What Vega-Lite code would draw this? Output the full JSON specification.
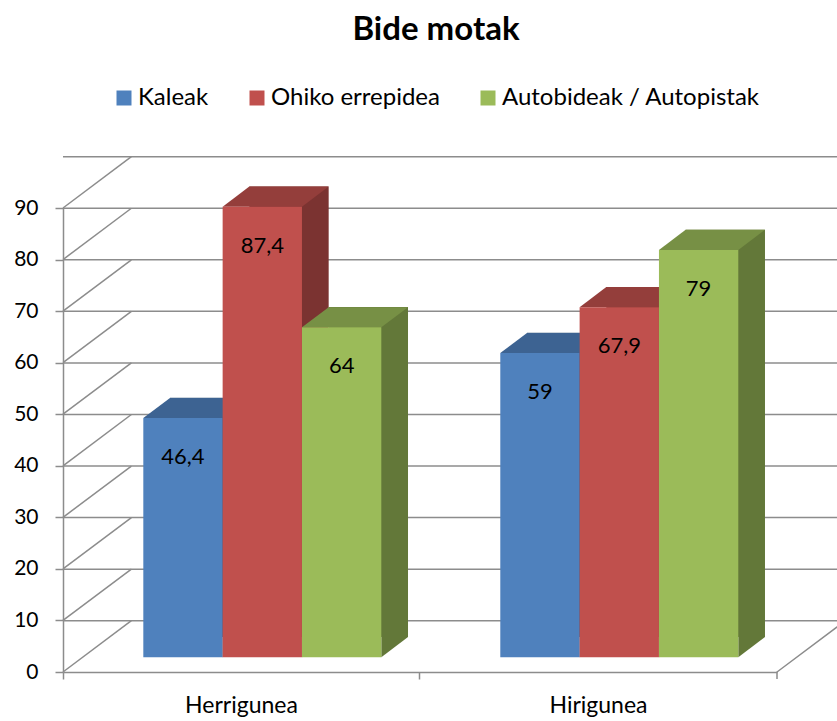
{
  "$schema": "https://vega.github.io/schema/vega-lite/v6.json",
  "width": 714,
  "height": 464,
  "autosize": {"type": "none"},
  "padding": {"left": 63, "top": 208, "right": 60, "bottom": 49},
  "background": "white",
  "config": {
    "view": {"stroke": null},
    "font": "Lato",
    "locale": {"number": {"decimal": ",", "thousands": ".", "grouping": [3], "currency": ["", " €"]}}
  },
  "title": {
    "text": "Bide motak",
    "font": "Lato",
    "fontSize": 33,
    "fontWeight": "bold",
    "color": "black",
    "anchor": "middle",
    "dx": 16,
    "offset": 39
  },
  "datasets": {
    "bars": [
      {"area": "Herrigunea", "type": "Kaleak", "value": 46.4},
      {"area": "Herrigunea", "type": "Ohiko errepidea", "value": 87.4},
      {"area": "Herrigunea", "type": "Autobideak / Autopistak", "value": 64},
      {"area": "Hirigunea", "type": "Kaleak", "value": 59},
      {"area": "Hirigunea", "type": "Ohiko errepidea", "value": 67.9},
      {"area": "Hirigunea", "type": "Autobideak / Autopistak", "value": 79}
    ],
    "grid": [
      {"g": 0}, {"g": 10}, {"g": 20}, {"g": 30}, {"g": 40},
      {"g": 50}, {"g": 60}, {"g": 70}, {"g": 80}, {"g": 90}
    ]
  },
  "layer": [
    {
      "data": {"name": "grid"},
      "mark": {"type": "rule", "color": "#8c8c8c", "strokeWidth": 1.5, "xOffset": 68.4, "x2Offset": 68.4, "yOffset": -51.3},
      "encoding": {
        "y": {"field": "g", "type": "quantitative", "title": null, "scale": {"domain": [0, 90], "nice": false}}
      }
    },
    {
      "data": {"name": "grid"},
      "mark": {"type": "point", "shape": "M-357,0L-288.6,-51.3", "size": 4, "filled": false, "color": "#8c8c8c", "strokeWidth": 1.5, "opacity": 1},
      "encoding": {
        "y": {"field": "g", "type": "quantitative", "title": null, "scale": {"domain": [0, 90], "nice": false}}
      }
    },
    {
      "data": {"name": "grid"},
      "transform": [{"filter": "datum.g == 0"}],
      "mark": {"type": "point", "shape": "M357,7L357,0L425.4,-51.3", "size": 4, "filled": false, "color": "#8c8c8c", "strokeWidth": 1.5, "opacity": 1},
      "encoding": {
        "y": {"field": "g", "type": "quantitative", "title": null, "scale": {"domain": [0, 90], "nice": false}}
      }
    },
    {
      "data": {"name": "bars"},
      "mark": {"type": "bar", "yOffset": -35, "y2Offset": -35},
      "encoding": {
        "x": {"field": "area", "type": "nominal", "title": null, "scale": {"paddingInner": 0.3333, "paddingOuter": 0.1667}},
        "xOffset": {"field": "type", "type": "nominal", "scale": {"type": "band", "domain": ["Kaleak", "Ohiko errepidea", "Autobideak / Autopistak"], "range": [47.5, 285.5], "paddingInner": 0, "paddingOuter": 0}},
        "y": {"field": "value", "type": "quantitative", "title": null, "scale": {"domain": [0, 90], "nice": false}},
        "color": {"field": "type", "type": "nominal", "scale": {"domain": ["Kaleak", "Ohiko errepidea", "Autobideak / Autopistak"], "range": ["#335379", "#7b3331", "#637839"]}, "legend": null}
      }
    },
    {
      "data": {"name": "bars"},
      "mark": {"type": "point", "shape": "M39.67,0L39.67,-20.2L66.37,-20.2Z", "size": 4, "filled": true, "opacity": 1, "yOffset": -14.7},
      "encoding": {
        "x": {"field": "area", "type": "nominal", "title": null, "scale": {"paddingInner": 0.3333, "paddingOuter": 0.1667}},
        "xOffset": {"field": "type", "type": "nominal", "scale": {"type": "band", "domain": ["Kaleak", "Ohiko errepidea", "Autobideak / Autopistak"], "range": [20.8, 258.8], "paddingInner": 0, "paddingOuter": 0}},
        "y": {"datum": 0, "type": "quantitative", "title": null, "scale": {"domain": [0, 90], "nice": false}},
        "color": {"field": "type", "type": "nominal", "scale": {"domain": ["Kaleak", "Ohiko errepidea", "Autobideak / Autopistak"], "range": ["#335379", "#7b3331", "#637839"]}, "legend": null}
      }
    },
    {
      "data": {"name": "bars"},
      "mark": {"type": "point", "shape": "M-39.67,0L39.67,0L66.37,-20.2L-13,-20.2Z", "size": 4, "filled": true, "opacity": 1, "yOffset": -14.7},
      "encoding": {
        "x": {"field": "area", "type": "nominal", "title": null, "scale": {"paddingInner": 0.3333, "paddingOuter": 0.1667}},
        "xOffset": {"field": "type", "type": "nominal", "scale": {"type": "band", "domain": ["Kaleak", "Ohiko errepidea", "Autobideak / Autopistak"], "range": [20.8, 258.8], "paddingInner": 0, "paddingOuter": 0}},
        "y": {"field": "value", "type": "quantitative", "title": null, "scale": {"domain": [0, 90], "nice": false}},
        "color": {"field": "type", "type": "nominal", "scale": {"domain": ["Kaleak", "Ohiko errepidea", "Autobideak / Autopistak"], "range": ["#3d6392", "#943e3b", "#779045"]}, "legend": null}
      }
    },
    {
      "data": {"name": "bars"},
      "mark": {"type": "bar", "yOffset": -14.7, "y2Offset": -14.7},
      "encoding": {
        "x": {
          "field": "area", "type": "nominal", "title": null,
          "scale": {"paddingInner": 0.3333, "paddingOuter": 0.1667},
          "axis": {"title": null, "bandPosition": -0.25, "labelOffset": 0, "labelAlign": "center", "labelAngle": 0, "domainColor": "#8c8c8c", "domainWidth": 1.5, "tickColor": "#8c8c8c", "tickWidth": 1.5, "tickSize": 7, "labelFont": "Lato", "labelFontSize": 23, "labelColor": "black", "labelPadding": 26}
        },
        "xOffset": {"field": "type", "type": "nominal", "scale": {"type": "band", "domain": ["Kaleak", "Ohiko errepidea", "Autobideak / Autopistak"], "range": [20.8, 258.8], "paddingInner": 0, "paddingOuter": 0}},
        "y": {
          "field": "value", "type": "quantitative", "title": null,
          "scale": {"domain": [0, 90], "nice": false},
          "axis": {"title": null, "values": [0, 10, 20, 30, 40, 50, 60, 70, 80, 90], "grid": false, "domainColor": "#8c8c8c", "domainWidth": 1.5, "tickColor": "#8c8c8c", "tickWidth": 1.5, "tickSize": 8, "labelFont": "Lato", "labelFontSize": 21, "labelColor": "black", "labelPadding": 17}
        },
        "color": {
          "field": "type", "type": "nominal",
          "scale": {"domain": ["Kaleak", "Ohiko errepidea", "Autobideak / Autopistak"], "range": ["#4f81bd", "#c0504d", "#9bbb59"]},
          "legend": {"orient": "none", "legendX": 49, "legendY": -122, "direction": "horizontal", "title": null, "symbolType": "square", "symbolSize": 225, "symbolStrokeWidth": 0, "labelFont": "Lato", "labelFontSize": 24, "labelColor": "black", "labelOffset": 2, "labelLimit": 0, "columnPadding": 36}
        }
      }
    },
    {
      "data": {"name": "bars"},
      "mark": {"type": "text", "yOffset": 24.3, "baseline": "middle", "align": "center", "font": "Lato", "fontSize": 22, "color": "black"},
      "encoding": {
        "x": {"field": "area", "type": "nominal", "title": null, "scale": {"paddingInner": 0.3333, "paddingOuter": 0.1667}},
        "xOffset": {"field": "type", "type": "nominal", "scale": {"type": "band", "domain": ["Kaleak", "Ohiko errepidea", "Autobideak / Autopistak"], "range": [20.8, 258.8], "paddingInner": 0, "paddingOuter": 0}},
        "y": {"field": "value", "type": "quantitative", "title": null, "scale": {"domain": [0, 90], "nice": false}},
        "text": {"field": "value", "type": "quantitative", "format": ".1~f"}
      }
    }
  ],
  "resolve": {"scale": {"xOffset": "independent", "color": "independent"}}
}
